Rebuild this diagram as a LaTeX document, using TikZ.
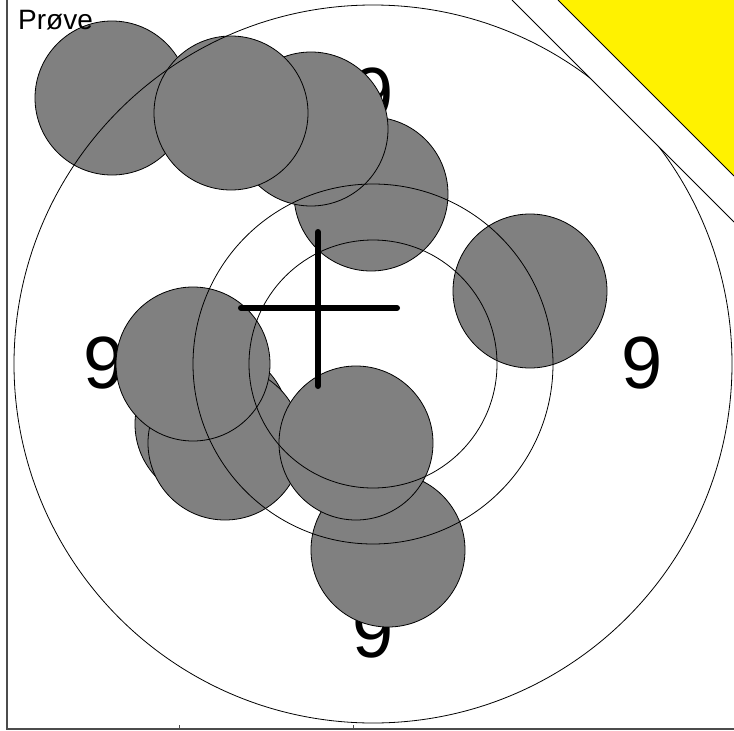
\documentclass[tikz,border=0pt]{standalone}
\usepackage{fontspec}
\setmainfont{Liberation Sans}

\begin{document}
\begin{tikzpicture}[
            x=1pt, y=-1pt,
            shot/.style={
                circle,
                draw,
                fill=gray,
                line width=0.8pt,
                minimum size=154pt,
                inner sep=0pt
            },
            ring/.style={
                circle,
                draw,
                line width=0.8pt,
                inner sep=0pt
            },
            score/.style={
                font=\fontsize{74}{74}\selectfont,
                inner sep=0pt
            }
        ]

            \useasboundingbox (0, 0) rectangle (734, 731);

            % score numbers lie under the shots
            \node[score] (n1) at (373, 94) {9};
            \node[score] (n2) at (104, 363) {9};
            \node[score] (n3) at (642, 363) {9};
            \node[score] (n4) at (373, 632) {9};

            % shots
            \node[shot] (s9) at (388, 550) {};
            \node[shot] (s8) at (212, 424) {};
            \node[shot] (s7) at (225, 443) {};
            \node[shot] (s6) at (193, 364) {};
            \node[shot] (s5) at (356, 443) {};
            \node[shot] (s4) at (371, 194) {};
            \node[shot] (s3) at (311, 129) {};
            \node[shot] (s1) at (112, 98) {};
            \node[shot] (s2) at (231, 113) {};
            \node[shot] (s10) at (530, 291) {};

            % rings
            \node[ring, minimum size=718pt] (r1) at (373, 364) {};
            \node[ring, minimum size=360pt] (r2) at (373, 364) {};
            \node[ring, minimum size=248pt] (r3) at (373, 364) {};

            % corner
            \coordinate (c1) at (512, 0);
            \coordinate (c2) at (734, 0);
            \coordinate (c3) at (734, 222);
            \coordinate (y1) at (558, 0);
            \coordinate (y2) at (734, 176);
            \fill[white] (c1) -- (c2) -- (c3) -- cycle;
            \draw[line width=0.8pt] (c1) -- (c3);
            \fill[yellow] (y1) -- (c2) -- (y2) -- cycle;
            \draw[line width=0.8pt] (y1) -- (y2);

            % aim mark
            \coordinate (a1) at (318, 232);
            \coordinate (a2) at (318, 386);
            \coordinate (a3) at (241, 308);
            \coordinate (a4) at (397, 308);
            \draw[line width=6pt, line cap=round] (a1) -- (a2);
            \draw[line width=6pt, line cap=round] (a3) -- (a4);

            % frame
            \coordinate (f1) at (7, 0);
            \coordinate (f2) at (7, 729);
            \coordinate (f3) at (734, 729);
            \draw[line width=1.6pt, black!70] (f1) -- (f2) -- (f3);
            \coordinate (t1) at (179, 729);
            \coordinate (t2) at (353, 729);
            \draw[black!70] (t1) -- ++(0, -4);
            \draw[black!70] (t2) -- ++(0, -4);

            \node[anchor=base west, font=\fontsize{28}{28}\selectfont, inner sep=0pt]
                (title) at (18, 29) {Prøve};

        \end{tikzpicture}
\end{document}
